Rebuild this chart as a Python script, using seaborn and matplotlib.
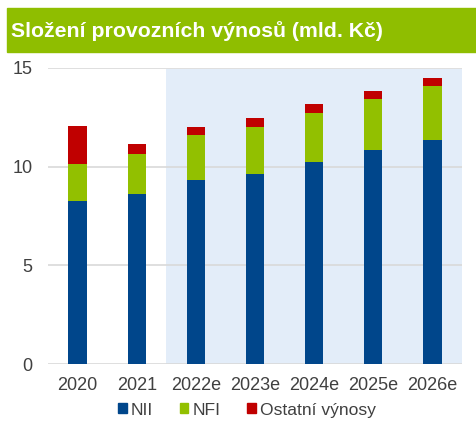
import matplotlib
matplotlib.use("Agg")
import matplotlib.pyplot as plt
from matplotlib.patches import Patch, Rectangle
import seaborn as sns
import numpy as np

# data
years = ["2020", "2021", "2022e", "2023e", "2024e", "2025e", "2026e"]
nii = [8.26, 8.60, 9.31, 9.61, 10.22, 10.83, 11.35]
nfi = [1.89, 2.04, 2.29, 2.42, 2.52, 2.62, 2.74]
other = [1.93, 0.51, 0.41, 0.42, 0.44, 0.40, 0.39]

C_NII = "#00468B"
C_NFI = "#92C000"
C_OTH = "#C00000"
BANNER = "#8FBE00"

sns.set_style("white")
plt.rcParams["font.family"] = ["Liberation Sans", "DejaVu Sans"]

fig = plt.figure(figsize=(4.77, 4.23), dpi=100)
ax = fig.add_axes([48 / 477, 1 - 364 / 423, 414 / 477, 296 / 423])

# title banner
fig.patches.append(Rectangle((7 / 477, 1 - 52 / 423), 1 - 7 / 477, 44 / 423,
                             transform=fig.transFigure, color=BANNER, zorder=0))
fig.text(11 / 477, 1 - 31 / 423, "Složení provozních výnosů (mld. Kč)",
         color="white", fontsize=15.3, fontweight="bold", va="center", ha="left")

# forecast shading
ax.axvspan(1.5, 6.5, ymin=0, ymax=0.995, color="#E3EDF9", zorder=0, lw=0)

base2 = np.array(nii) + np.array(nfi)
kw = dict(saturation=1, width=0.31, ax=ax, zorder=3, linewidth=0)
sns.barplot(x=years, y=nii, color=C_NII, **kw)
sns.barplot(x=years, y=nfi, bottom=nii, color=C_NFI, **kw)
sns.barplot(x=years, y=other, bottom=base2, color=C_OTH, **kw)

ax.set_xlim(-0.5, 6.5)
ax.set_ylim(0, 15)
ax.set_yticks([0, 5, 10, 15])
ax.yaxis.grid(True, color="#D9D9D9", lw=1.2, zorder=1)
ax.set_axisbelow(True)
for s in ax.spines.values():
    s.set_visible(False)
ax.tick_params(axis="both", length=0, labelsize=13, labelcolor="#404040")
ax.tick_params(axis="y", pad=11)
ax.tick_params(axis="x", pad=9)
ax.set_xlabel("")
ax.set_ylabel("")

handles = [Patch(color=C_NII, label="NII"), Patch(color=C_NFI, label="NFI"),
           Patch(color=C_OTH, label="Ostatní výnosy")]
leg = fig.legend(handles=handles, loc="center", bbox_to_anchor=(247 / 477, 1 - 410 / 423),
                 ncol=3, frameon=False, fontsize=12.6, handlelength=0.5, handleheight=0.5,
                 handletextpad=0.25, columnspacing=1.5, borderpad=0)
for t in leg.get_texts():
    t.set_color("#404040")

fig.savefig("out.png", dpi=100)
